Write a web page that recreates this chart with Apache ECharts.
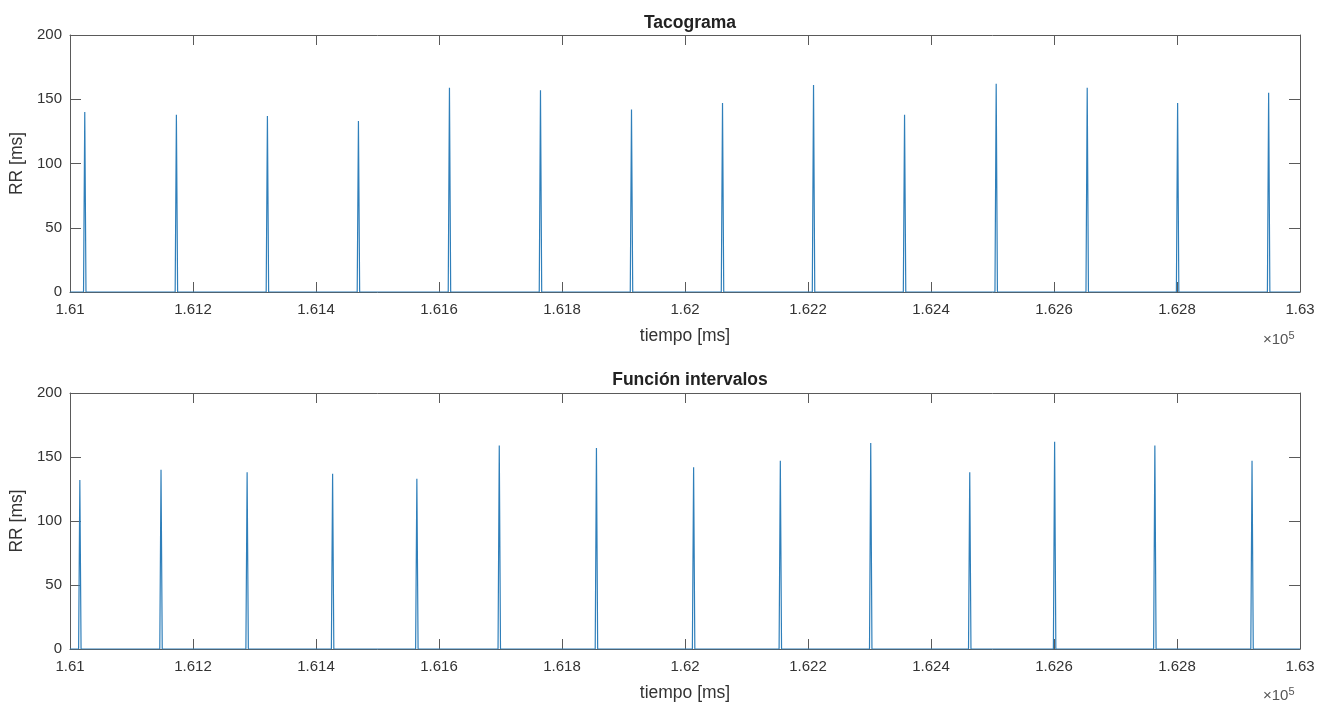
<!DOCTYPE html>
<html>
<head>
<meta charset="utf-8">
<script src="https://cdn.jsdelivr.net/npm/echarts@6/dist/echarts.min.js"></script>
<style>
  html, body { margin: 0; padding: 0; background: #fff; }
  #main { width: 1319px; height: 702px; }
</style>
</head>
<body>
<div id="main"></div>
<script>
// tacograma: spike times [ms] and RR values [ms]
const tacoTimes = [161024, 161173, 161321, 161469, 161617, 161765, 161913, 162061, 162209, 162357, 162506, 162654, 162801, 162949]
const tacoValues = [140, 138, 137, 133, 159, 157, 142, 147, 161, 138, 162, 159, 147, 155]
// función intervalos
const funcTimes = [161016, 161148, 161288, 161427, 161564, 161698, 161856, 162014, 162155, 162302, 162463, 162601, 162764, 162922]
const funcValues = [132, 140, 138, 137, 133, 159, 157, 142, 147, 161, 138, 162, 159, 147]
const xTicks = [161000, 163000, 200]   // min, max, interval
const yTicks = [0, 200, 50]

const axisColor = '#5a5a5a'
const textColor = '#333'
const font = 'Liberation Sans, Arial, sans-serif'

// series is zero everywhere except one sample per beat
function spikes(times, values) {
  const pts = [[xTicks[0], 0]]
  times.forEach((t, i) => {
    pts.push([t - 2, 0], [t, values[i]], [t + 2, 0])
  })
  pts.push([xTicks[1], 0])
  return pts
}

function fmtX(v) {
  return String(Number((v / 1e5).toFixed(3)))
}

function xAxes(grid) {
  const base = {
    type: 'value', gridIndex: grid,
    min: xTicks[0], max: xTicks[1], interval: xTicks[2],
    axisLine: { show: true, onZero: false, lineStyle: { color: axisColor, width: 1 } },
    axisTick: { show: true, inside: true, length: 10, lineStyle: { color: axisColor } },
    splitLine: { show: false },
  }
  return [
    Object.assign({}, base, {
      position: 'bottom',
      axisLabel: { color: textColor, fontSize: 15, fontFamily: font, margin: 10, formatter: fmtX },
      name: 'tiempo [ms]', nameLocation: 'middle', nameGap: 35,
      nameTextStyle: { color: textColor, fontSize: 17.5, fontFamily: font },
    }),
    Object.assign({}, base, { position: 'top', axisLabel: { show: false } }),
  ]
}

function yAxes(grid) {
  const base = {
    type: 'value', gridIndex: grid,
    min: yTicks[0], max: yTicks[1], interval: yTicks[2],
    axisLine: { show: true, onZero: false, lineStyle: { color: axisColor, width: 1 } },
    axisTick: { show: true, inside: true, length: 11, lineStyle: { color: axisColor } },
    splitLine: { show: false },
  }
  return [
    Object.assign({}, base, {
      position: 'left',
      axisLabel: { color: textColor, fontSize: 15, fontFamily: font, margin: 8 },
      name: 'RR [ms]', nameLocation: 'middle', nameGap: 36,
      nameTextStyle: { color: textColor, fontSize: 17.5, fontFamily: font },
    }),
    Object.assign({}, base, { position: 'right', axisLabel: { show: false } }),
  ]
}

const chart = echarts.init(document.getElementById('main'))
const option = {
  animation: false,
  backgroundColor: '#fff',
  title: [
    { text: 'Tacograma', left: 685, top: 9, textAlign: 'center',
      textStyle: { fontSize: 17.5, fontWeight: 'bold', color: '#222', fontFamily: font } },
    { text: 'Función intervalos', left: 685, top: 366, textAlign: 'center',
      textStyle: { fontSize: 17.5, fontWeight: 'bold', color: '#222', fontFamily: font } },
  ],
  grid: [
    { left: 70, top: 35, width: 1230, height: 257, outerBoundsMode: 'none' },
    { left: 70, top: 393, width: 1230, height: 256, outerBoundsMode: 'none' },
  ],
  xAxis: xAxes(0).concat(xAxes(1)),
  yAxis: yAxes(0).concat(yAxes(1)),
  graphic: [
    { type: 'text', left: 1263, top: 330,
      style: { text: '×10{s|5}', fill: '#555', font: '15px ' + font,
        rich: { s: { fontSize: 11, verticalAlign: 'top', padding: [0, 0, 8, 0] } } } },
    { type: 'text', left: 1263, top: 686,
      style: { text: '×10{s|5}', fill: '#555', font: '15px ' + font,
        rich: { s: { fontSize: 11, verticalAlign: 'top', padding: [0, 0, 8, 0] } } } },
  ],
  series: [
    {
      type: 'line', xAxisIndex: 0, yAxisIndex: 0,
      data: spikes(tacoTimes, tacoValues),
      showSymbol: false, lineStyle: { color: '#2f7fba', width: 1.2 },
    },
    {
      type: 'line', xAxisIndex: 2, yAxisIndex: 2,
      data: spikes(funcTimes, funcValues),
      showSymbol: false, lineStyle: { color: '#2f7fba', width: 1.2 },
    },
  ],
}
chart.setOption(option)
</script>
</body>
</html>
